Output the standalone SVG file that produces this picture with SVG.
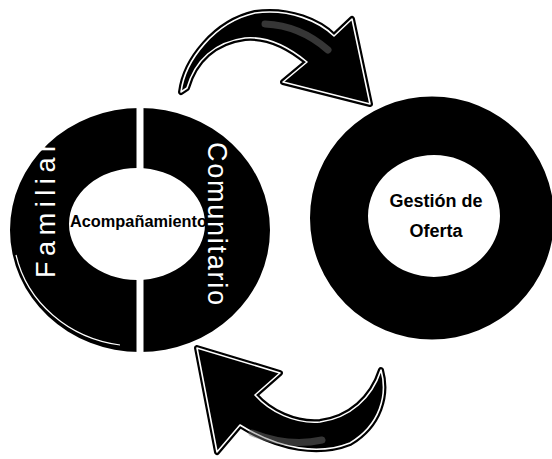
<svg xmlns="http://www.w3.org/2000/svg" width="552" height="459" viewBox="0 0 552 459">
<style>
.ring{fill:#000;fill-rule:evenodd}
.arrowBack{fill:#000;stroke:#000;stroke-width:6;stroke-linejoin:round}
.arrowFront{fill:#000;stroke:#fff;stroke-width:1.6;stroke-linejoin:round}
.shade{fill:none;stroke:#777;stroke-width:7;opacity:0.45;stroke-linecap:round}
.band{font-family:"Liberation Sans",Arial,sans-serif;font-size:27px;fill:#fff}
.label{font-family:"Liberation Sans",Arial,sans-serif;font-weight:bold;fill:#000}
</style>
<defs>
<path id="arrowTop" d="M 181,92 C 185,60 215,22 255,13 C 290,8 320,22 334,36 L 352,19 L 370,104 L 283,82 L 307,62 C 290,48 268,36 245,38 C 215,42 195,60 187,88 Z"/>
<path id="arrowBottom" d="M 197,348 L 280,373 L 255,395 C 270,412 295,424 320,422 C 350,418 372,398 381,370 C 388,395 380,425 350,443 C 320,455 280,450 240,425 L 217,452 Z"/>
</defs>
<rect width="552" height="459" fill="#fff"/>
<g id="connectors">
<use href="#arrowTop" class="arrowBack"/>
<use href="#arrowTop" class="arrowFront"/>
<path class="shade" d="M 265,24 C 290,25 312,36 328,50"/>
<use href="#arrowBottom" class="arrowBack"/>
<use href="#arrowBottom" class="arrowFront"/>
<path class="shade" d="M 252,433 C 275,442 300,445 322,440"/>
</g>
<g id="acompanamiento">
<path class="ring" d="M 10,230 A 130,122 0 1 0 270,230 A 130,122 0 1 0 10,230 Z M 69,224 A 68,56 0 1 1 205,224 A 68,56 0 1 1 69,224 Z"/>
<path d="M 16,255 A 124,116 0 0 0 120,345" fill="none" stroke="#fff" stroke-width="1.2"/>
<rect x="136.5" y="100" width="7" height="72" fill="#fff"/>
<rect x="136.5" y="277" width="7" height="85" fill="#fff"/>
<text class="label" x="70" y="227" font-size="16" textLength="137" lengthAdjust="spacingAndGlyphs">Acompañamiento</text>
<text class="band" transform="translate(55,210.5) rotate(-90)" text-anchor="middle" textLength="135" lengthAdjust="spacing">Familiar</text>
<text class="band" transform="translate(208,223.5) rotate(90)" text-anchor="middle" textLength="163" lengthAdjust="spacing">Comunitario</text>
</g>
<g id="gestion">
<path class="ring" d="M 310,218 A 122,121.5 0 1 0 554,218 A 122,121.5 0 1 0 310,218 Z M 368,216 A 66,61 0 1 1 500,216 A 66,61 0 1 1 368,216 Z"/>
<text class="label" x="436" y="207" font-size="18" text-anchor="middle">Gestión de</text>
<text class="label" x="436" y="237" font-size="18" text-anchor="middle">Oferta</text>
</g>
</svg>
